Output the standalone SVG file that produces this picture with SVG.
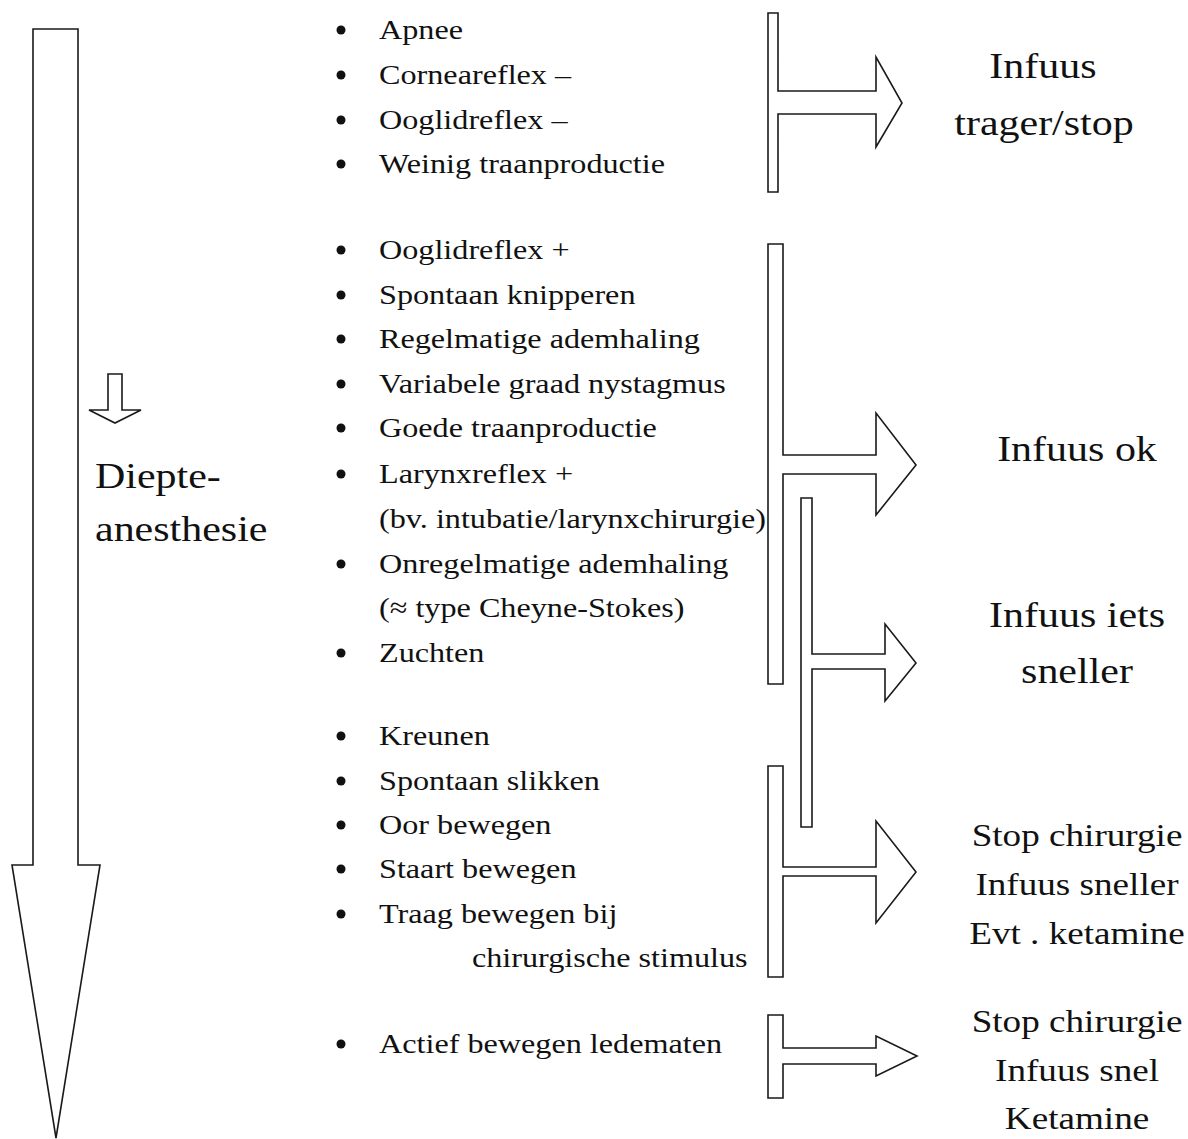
<svg xmlns="http://www.w3.org/2000/svg" width="1188" height="1139" viewBox="0 0 1188 1139">
<style>
.shape{fill:#fff;stroke:#1a1a1a;stroke-width:1.6;stroke-linejoin:miter}
.b{font-family:"Liberation Serif","Times New Roman",serif;font-size:28px;fill:#111}
.l{font-family:"Liberation Serif","Times New Roman",serif;font-size:36.5px;fill:#111;text-anchor:middle}
.s{font-family:"Liberation Serif","Times New Roman",serif;font-size:32.3px;fill:#111;text-anchor:middle}
.dot{fill:#111}
</style>
<rect width="1188" height="1139" fill="#fff"/>
<g id="depth-arrow">
<polygon class="shape" points="33,29 78,29 78,865 100,865 56,1138 12,865 33,865"/>
<polygon class="shape" points="108,374 122,374 122,410 141,410 115,423 89,410 108,410"/>
<text class="b" style="font-size:36.5px" transform="translate(95,488) scale(1.15,1)">Diepte-</text>
<text class="b" style="font-size:36.5px" transform="translate(95,541) scale(1.15,1)">anesthesie</text>
</g>
<g id="connectors">
<polygon class="shape" points="768,13 778,13 778,91 876,91 876,57 902,103 876,147 876,114 778,114 778,192 768,192"/>
<polygon class="shape" points="768,244 783,244 783,455 876,455 876,413 916,465 876,515 876,474 783,474 783,684 768,684"/>
<polygon class="shape" points="801,498 812,498 812,654 885,654 885,624 916,663 885,701 885,669 812,669 812,827 801,827"/>
<polygon class="shape" points="768,766 783,766 783,867 876,867 876,821 916,872 876,923 876,876 783,876 783,977 768,977"/>
<polygon class="shape" points="768,1015 783,1015 783,1048 876,1048 876,1036 917,1056 876,1076 876,1064 783,1064 783,1098 768,1098"/>
</g>
<g id="group1">
<circle class="dot" cx="341" cy="30" r="4.5"/><text class="b" transform="translate(379,39) scale(1.15,1)">Apnee</text>
<circle class="dot" cx="341" cy="75" r="4.5"/><text class="b" transform="translate(379,84) scale(1.15,1)">Corneareflex –</text>
<circle class="dot" cx="341" cy="120" r="4.5"/><text class="b" transform="translate(379,129) scale(1.15,1)">Ooglidreflex –</text>
<circle class="dot" cx="341" cy="164" r="4.5"/><text class="b" transform="translate(379,173) scale(1.15,1)">Weinig traanproductie</text>
</g>
<g id="group2">
<circle class="dot" cx="341" cy="250" r="4.5"/><text class="b" transform="translate(379,259) scale(1.15,1)">Ooglidreflex +</text>
<circle class="dot" cx="341" cy="295" r="4.5"/><text class="b" transform="translate(379,304) scale(1.15,1)">Spontaan knipperen</text>
<circle class="dot" cx="341" cy="339" r="4.5"/><text class="b" transform="translate(379,348) scale(1.15,1)">Regelmatige ademhaling</text>
<circle class="dot" cx="341" cy="384" r="4.5"/><text class="b" transform="translate(379,393) scale(1.15,1)">Variabele graad nystagmus</text>
<circle class="dot" cx="341" cy="428" r="4.5"/><text class="b" transform="translate(379,437) scale(1.15,1)">Goede traanproductie</text>
<circle class="dot" cx="341" cy="474" r="4.5"/><text class="b" transform="translate(379,483) scale(1.15,1)">Larynxreflex +</text>
<text class="b" transform="translate(379,528) scale(1.15,1)">(bv. intubatie/larynxchirurgie)</text>
<circle class="dot" cx="341" cy="564" r="4.5"/><text class="b" transform="translate(379,573) scale(1.15,1)">Onregelmatige ademhaling</text>
<text class="b" transform="translate(379,617) scale(1.15,1)">(≈ type Cheyne-Stokes)</text>
<circle class="dot" cx="341" cy="653" r="4.5"/><text class="b" transform="translate(379,662) scale(1.15,1)">Zuchten</text>
</g>
<g id="group3">
<circle class="dot" cx="341" cy="736" r="4.5"/><text class="b" transform="translate(379,745) scale(1.15,1)">Kreunen</text>
<circle class="dot" cx="341" cy="781" r="4.5"/><text class="b" transform="translate(379,790) scale(1.15,1)">Spontaan slikken</text>
<circle class="dot" cx="341" cy="825" r="4.5"/><text class="b" transform="translate(379,834) scale(1.15,1)">Oor bewegen</text>
<circle class="dot" cx="341" cy="869" r="4.5"/><text class="b" transform="translate(379,878) scale(1.15,1)">Staart bewegen</text>
<circle class="dot" cx="341" cy="914" r="4.5"/><text class="b" transform="translate(379,923) scale(1.15,1)">Traag bewegen bij</text>
<text class="b" transform="translate(472,967) scale(1.15,1)">chirurgische stimulus</text>
</g>
<g id="group4">
<circle class="dot" cx="341" cy="1044" r="4.5"/><text class="b" transform="translate(379,1053) scale(1.15,1)">Actief bewegen ledematen</text>
</g>
<g id="label1">
<text class="l" transform="translate(1043,78) scale(1.15,1)">Infuus</text>
<text class="l" transform="translate(1044,135) scale(1.15,1)">trager/stop</text>
</g>
<g id="label2">
<text class="l" transform="translate(1077,461) scale(1.15,1)">Infuus ok</text>
</g>
<g id="label3">
<text class="l" transform="translate(1077,627) scale(1.15,1)">Infuus iets</text>
<text class="l" transform="translate(1077,683) scale(1.15,1)">sneller</text>
</g>
<g id="label4">
<text class="s" transform="translate(1077,846) scale(1.15,1)">Stop chirurgie</text>
<text class="s" transform="translate(1077,895) scale(1.15,1)">Infuus sneller</text>
<text class="s" transform="translate(1077,944) scale(1.15,1)">Evt . ketamine</text>
</g>
<g id="label5">
<text class="s" transform="translate(1077,1032) scale(1.15,1)">Stop chirurgie</text>
<text class="s" transform="translate(1077,1081) scale(1.15,1)">Infuus snel</text>
<text class="s" transform="translate(1077,1129) scale(1.15,1)">Ketamine</text>
</g>
</svg>
